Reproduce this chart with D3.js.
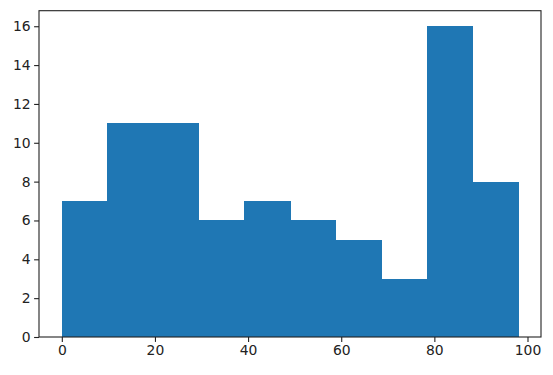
<!DOCTYPE html>
<html>
<head>
<meta charset="utf-8">
<script src="https://cdn.jsdelivr.net/npm/d3@7"></script>
<style>
  body { margin: 0; background: #fff; }
  text { font-family: "DejaVu Sans", sans-serif; }
</style>
</head>
<body>
<div id="chart"></div>
<script>
// histogram: 10 bins between 0 and 98
const binStart = 0;
const binEnd = 98;
const counts = [7, 11, 11, 6, 7, 6, 5, 3, 16, 8];
const xTicks = [0, 20, 40, 60, 80, 100];
const yTicks = [0, 2, 4, 6, 8, 10, 12, 14, 16];

const width = 553, height = 375;
const margin = { top: 10.7, right: 12, bottom: 38, left: 39 };
const innerW = width - margin.left - margin.right;
const innerH = height - margin.top - margin.bottom;

const binW = (binEnd - binStart) / counts.length;
const bins = counts.map((c, i) => ({ x0: binStart + i * binW, x1: binStart + (i + 1) * binW, count: c }));

// matplotlib-style 5% margins
const pad = (binEnd - binStart) * 0.05;
const x = d3.scaleLinear().domain([binStart - pad, binEnd + pad]).range([0, innerW]);
const y = d3.scaleLinear().domain([0, d3.max(counts) * 1.05]).range([innerH, 0]);

const svg = d3.select("#chart").append("svg")
  .attr("width", width)
  .attr("height", height)
  .append("g")
  .attr("transform", `translate(${margin.left},${margin.top})`);

svg.selectAll("rect.bar")
  .data(bins)
  .enter()
  .append("rect")
  .attr("class", "bar")
  .attr("x", d => x(d.x0))
  .attr("y", d => y(d.count))
  .attr("width", d => x(d.x1) - x(d.x0) + 0.5)
  .attr("height", d => y(0) - y(d.count))
  .attr("fill", "#1f77b4")
  .attr("shape-rendering", "crispEdges");

// frame
svg.append("rect")
  .attr("width", innerW)
  .attr("height", innerH)
  .attr("fill", "none")
  .attr("stroke", "#222")
  .attr("stroke-width", 1.1);

const xAxis = svg.append("g")
  .attr("transform", `translate(0,${innerH})`)
  .call(d3.axisBottom(x).tickValues(xTicks).tickSize(4.9).tickPadding(3.5));
const yAxis = svg.append("g")
  .call(d3.axisLeft(y).tickValues(yTicks).tickSize(4.9).tickPadding(3.5));

[xAxis, yAxis].forEach(a => {
  a.select(".domain").remove();
  a.selectAll(".tick line").attr("stroke", "#222").attr("stroke-width", 1.1);
  a.selectAll(".tick text")
    .attr("fill", "#222")
    .style("font-size", "13.9px")
    .style("font-family", "DejaVu Sans, sans-serif");
});
</script>
</body>
</html>
